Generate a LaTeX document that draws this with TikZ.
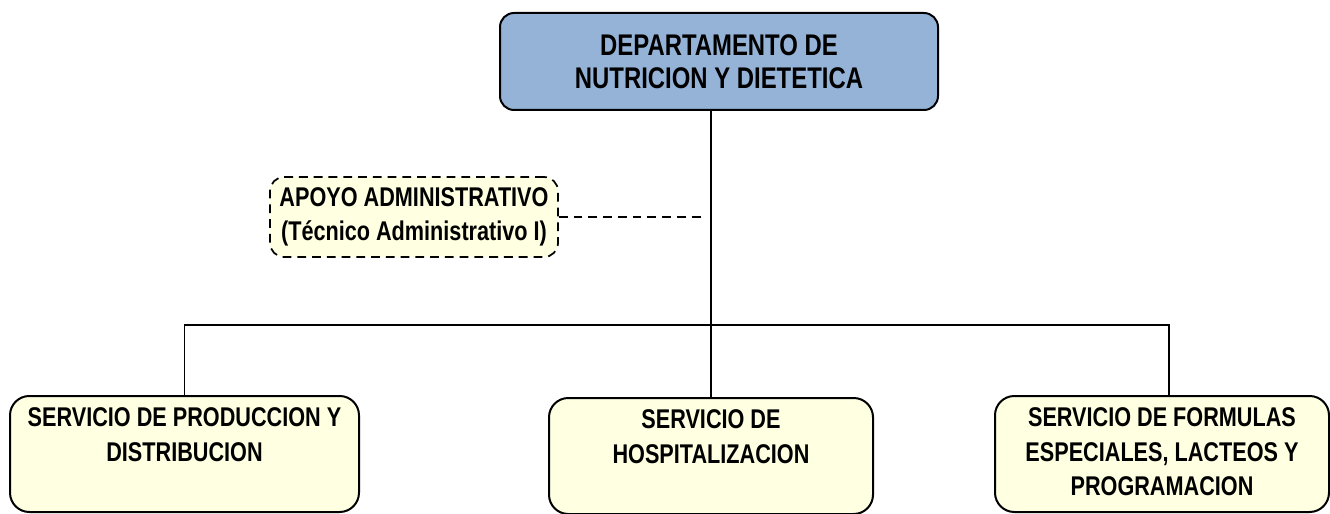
\documentclass[tikz,border=0pt]{standalone}
\usepackage{fontspec}
\setmainfont{Liberation Sans}[FakeStretch=0.8]
\usepackage{xcolor}
\usetikzlibrary{calc}

\definecolor{deptblue}{RGB}{149,179,215}
\definecolor{unitcream}{RGB}{255,255,226}

\tikzset{
  dept/.style={draw=black, line width=0.4mm, fill=deptblue, rounded corners=8pt,
    minimum width=8.76cm, minimum height=1.94cm, align=center,
    font={\bfseries\fontsize{17pt}{18.8pt}\selectfont}},
  apoyo/.style={draw=black, line width=0.35mm, dash pattern=on 5pt off 3.4pt,
    fill=unitcream, rounded corners=8pt, minimum width=5.76cm, minimum height=1.6cm,
    align=center, font={\bfseries\fontsize{15.4pt}{19.5pt}\selectfont}},
  unidad/.style={draw=black, line width=0.4mm, fill=unitcream, rounded corners=11pt,
    inner xsep=0pt, inner ysep=0.24cm, anchor=north,
    font={\bfseries\fontsize{15.4pt}{19.5pt}\selectfont}},
  link/.style={line width=0.3mm, color=black}
}

\begin{document}
\begin{tikzpicture}

\useasboundingbox (0,0) rectangle (26.6,-10.28);

\node[dept] (dept) at (14.38,-1.23) {DEPARTAMENTO DE\\NUTRICION Y DIETETICA};
\node[apoyo] (apoyo) at (8.28,-4.34) {APOYO ADMINISTRATIVO\\(Técnico Administrativo I)};

\node[unidad] (prod) at (3.69,-7.9)
  {\parbox[t][1.84cm][t]{6.98cm}{\centering SERVICIO DE PRODUCCION Y\\DISTRIBUCION}};
\node[unidad] (hosp) at (14.22,-7.94)
  {\parbox[t][1.84cm][t]{6.48cm}{\centering SERVICIO DE\\HOSPITALIZACION}};
\node[unidad] (form) at (23.24,-7.9)
  {\parbox[t][1.84cm][t]{6.68cm}{\centering SERVICIO DE FORMULAS\\ESPECIALES, LACTEOS Y\\PROGRAMACION}};

\coordinate (bus) at (0,-6.5);
\coordinate (form-top) at ([xshift=0.14cm]form.north);
\coordinate (apoyo-end) at ([xshift=-0.14cm]hosp.north |- apoyo.east);

%\draw[link] (dept.south) -- (hosp.north);
\draw[link] (dept.south -| hosp.north) -- (hosp.north);
\draw[link] (prod.north) -- (prod.north |- bus) -- (form-top |- bus) -- (form-top);
\draw[link, dash pattern=on 5pt off 3.4pt] (apoyo.east) -- (apoyo-end);

\end{tikzpicture}
\end{document}
